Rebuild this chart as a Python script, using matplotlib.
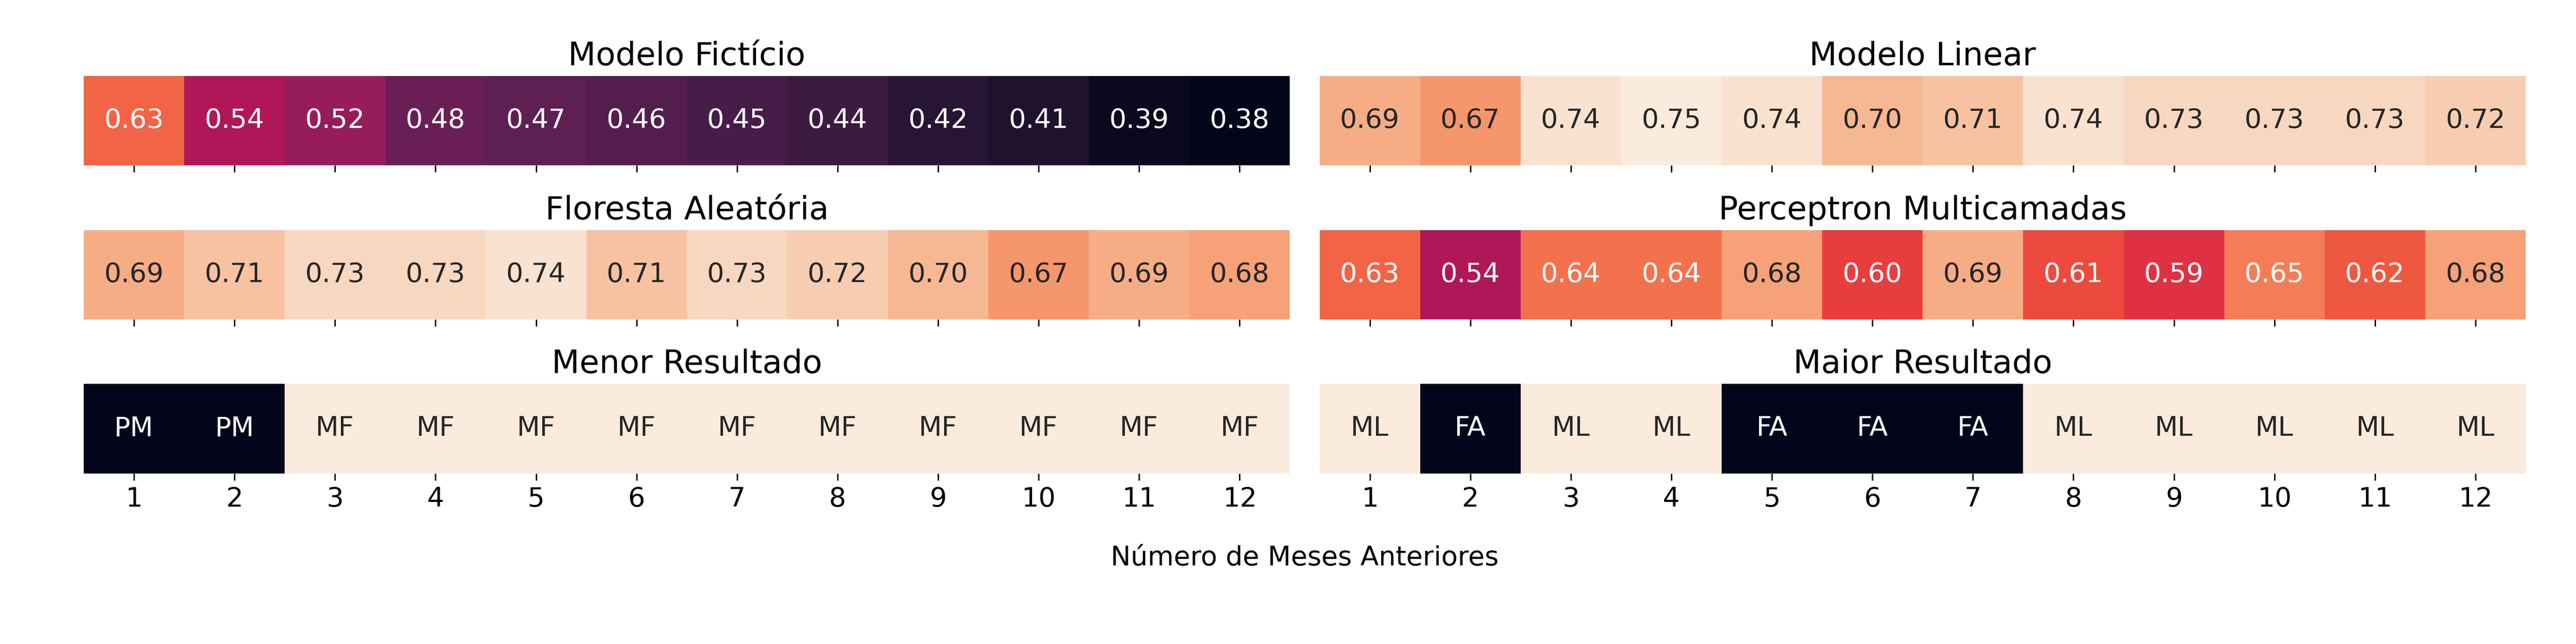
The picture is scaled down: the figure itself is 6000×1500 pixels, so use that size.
import numpy as np
import matplotlib
matplotlib.use("Agg")
import matplotlib.pyplot as plt
import seaborn as sns

months = list(range(1, 13))

modelo_ficticio = [0.63, 0.54, 0.52, 0.48, 0.47, 0.46, 0.45, 0.44, 0.42, 0.41, 0.39, 0.38]
modelo_linear = [0.69, 0.67, 0.74, 0.75, 0.74, 0.70, 0.71, 0.74, 0.73, 0.73, 0.73, 0.72]
floresta = [0.69, 0.71, 0.73, 0.73, 0.74, 0.71, 0.73, 0.72, 0.70, 0.67, 0.69, 0.68]
perceptron = [0.63, 0.54, 0.64, 0.64, 0.68, 0.60, 0.69, 0.61, 0.59, 0.65, 0.62, 0.68]

menor = ["PM", "PM", "MF", "MF", "MF", "MF", "MF", "MF", "MF", "MF", "MF", "MF"]
maior = ["ML", "FA", "ML", "ML", "FA", "FA", "FA", "ML", "ML", "ML", "ML", "ML"]

titles = ["Modelo Fictício", "Modelo Linear", "Floresta Aleatória",
          "Perceptron Multicamadas", "Menor Resultado", "Maior Resultado"]

# shared scale for the score panels
all_vals = np.array(modelo_ficticio + modelo_linear + floresta + perceptron)
vmin, vmax = all_vals.min(), all_vals.max()

plt.rcParams["font.family"] = ["DejaVu Sans"]

fig, axes = plt.subplots(3, 2, figsize=(20, 5), dpi=300)
fig.subplots_adjust(left=0.0325, right=0.9805, top=0.882, bottom=0.265,
                    wspace=0.0246, hspace=0.72)

score_data = [modelo_ficticio, modelo_linear, floresta, perceptron]
for i, vals in enumerate(score_data):
    ax = axes[i // 2, i % 2]
    sns.heatmap(np.array([vals]), ax=ax, cmap="rocket", vmin=vmin, vmax=vmax,
                annot=True, fmt=".2f", annot_kws={"fontsize": 15},
                cbar=False, xticklabels=months, yticklabels=False)
    ax.set_xticklabels([])
    ax.tick_params(axis="x", length=3.8, width=0.8)
    ax.set_title(titles[i], fontsize=18)

# best / worst panels: dark cell for the "odd" model
for j, labels in enumerate([menor, maior]):
    ax = axes[2, j]
    dark = "PM" if j == 0 else "FA"
    codes = np.array([[0 if lb == dark else 1 for lb in labels]])
    sns.heatmap(codes, ax=ax, cmap="rocket", vmin=0, vmax=1,
                annot=np.array([labels]), fmt="", annot_kws={"fontsize": 15},
                cbar=False, xticklabels=months, yticklabels=False)
    ax.tick_params(axis="x", length=3.8, width=0.8, labelsize=15, rotation=0)
    ax.set_title(titles[4 + j], fontsize=18)

fig.text(0.5065, 0.133, "Número de Meses Anteriores", ha="center", va="center", fontsize=15)

fig.savefig("out.png", dpi=300)
plt.close(fig)
